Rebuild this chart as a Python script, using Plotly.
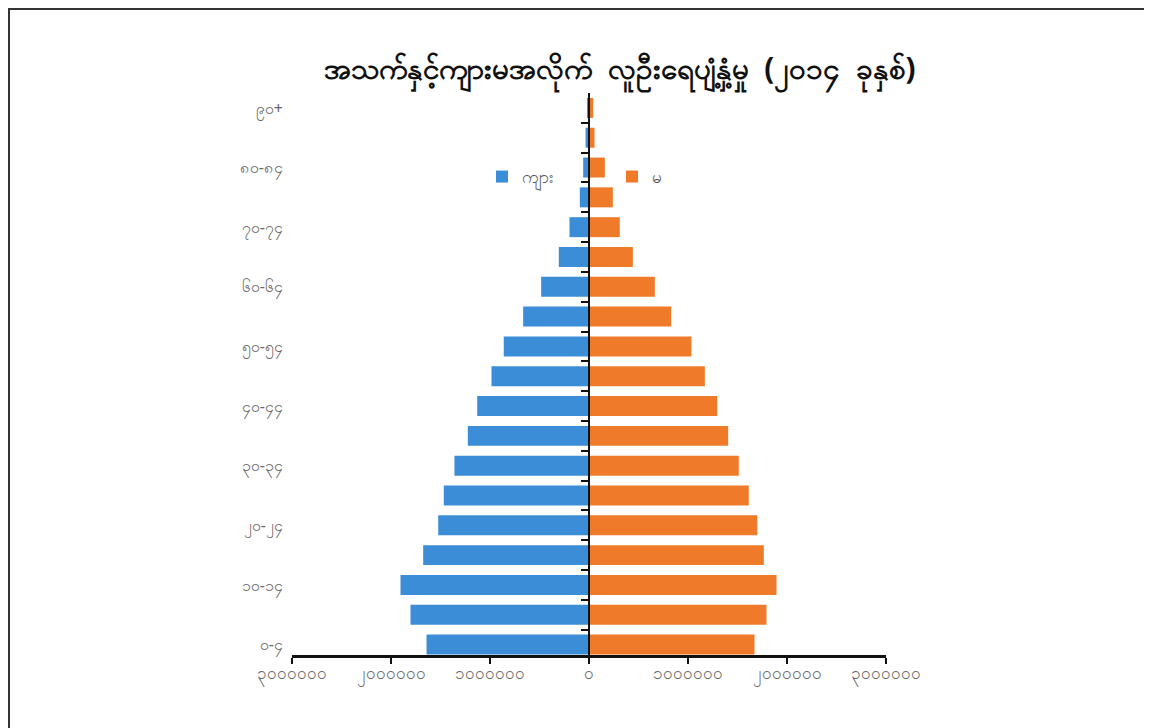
import plotly.graph_objects as go

age_groups = ["0-4", "5-9", "10-14", "15-19", "20-24", "25-29", "30-34", "35-39",
              "40-44", "45-49", "50-54", "55-59", "60-64", "65-69", "70-74",
              "75-79", "80-84", "85-89", "90+"]
age_labels_my = ["၀-၄", "", "၁၀-၁၄", "", "၂၀-၂၄", "", "၃၀-၃၄", "", "၄၀-၄၄", "",
                 "၅၀-၅၄", "", "၆၀-၆၄", "", "၇၀-၇၄", "", "၈၀-၈၄", "", "၉၀+"]
male = [1641000, 1803000, 1904000, 1675000, 1523000, 1467000, 1359000, 1224000,
        1129000, 985000, 861000, 665000, 483000, 305000, 197000, 93000, 59000,
        35000, 18000]
female = [1672000, 1793000, 1894000, 1766000, 1699000, 1614000, 1513000, 1406000,
          1295000, 1170000, 1035000, 830000, 665000, 443000, 311000, 241000,
          160000, 56000, 42000]
x_tickvals = [-3000000, -2000000, -1000000, 0, 1000000, 2000000, 3000000]
x_ticktext = ["၃၀၀၀၀၀၀", "၂၀၀၀၀၀၀", "၁၀၀၀၀၀၀", "၀", "၁၀၀၀၀၀၀", "၂၀၀၀၀၀၀", "၃၀၀၀၀၀၀"]
series_names = ["ကျား", "မ"]
title_text = "အသက်နှင့်ကျားမအလိုက် \u00a0လူဦးရေပျံ့နှံ့မှု \u00a0(၂၀၁၄ \u00a0ခုနှစ်)"

BLUE = "#3a8dd6"
ORANGE = "#ef7b2a"
FONT = "Noto Sans, DejaVu Sans, sans-serif"

ypos = list(range(len(age_groups)))
YR = [-0.35, 18.5]

fig = go.Figure()
fig.add_trace(go.Bar(y=ypos, x=[-v for v in male], orientation="h", name=series_names[0],
                     marker=dict(color=BLUE, line=dict(width=0)),
                     customdata=male, hovertemplate="%{customdata}<extra></extra>"))
fig.add_trace(go.Bar(y=ypos, x=female, orientation="h", name=series_names[1],
                     marker=dict(color=ORANGE, line=dict(width=0)),
                     hovertemplate="%{x}<extra></extra>"))
# helper trace for the central axis with boundary ticks
fig.add_trace(go.Scatter(x=[0], y=[0], yaxis="y2", mode="markers",
                         marker=dict(opacity=0), showlegend=False, hoverinfo="skip"))

# page body adds an 8px offset, so the figure is laid out in shifted coordinates
W, H = 1144, 720
ml, mr, mt, mb = 284, 266, 85, 73
PW, PH = W - ml - mr, H - mt - mb

fig.update_layout(
    width=W, height=H,
    margin=dict(l=ml, r=mr, t=mt, b=mb, autoexpand=False),
    paper_bgcolor="white", plot_bgcolor="white",
    barmode="relative", bargap=0.33,
    font=dict(family=FONT, color="#555555", size=16),
    title=dict(text="<b>" + title_text + "</b>", x=612 / W, xanchor="center",
               y=1 - 61 / H, yanchor="middle",
               font=dict(size=29.5, color="#111111", family=FONT)),
    xaxis=dict(range=[-3000000, 3000000], tickvals=x_tickvals, ticktext=x_ticktext,
               showgrid=False, zeroline=False, showline=True, linecolor="#111111",
               linewidth=3, ticks="outside", ticklen=6, tickwidth=2, tickcolor="#111111",
               ticklabelstandoff=-5,
               tickfont=dict(size=17, color="#666666"), fixedrange=True),
    yaxis=dict(range=YR, tickvals=ypos, ticktext=age_labels_my,
               showgrid=False, zeroline=False, showline=False, ticks="",
               ticklabelstandoff=8,
               tickfont=dict(size=16, color="#666666"), fixedrange=True),
    yaxis2=dict(range=YR, overlaying="y", anchor="free", position=0.5,
                side="left", showgrid=False, zeroline=False, showline=True,
                linecolor="#111111", linewidth=2, ticks="outside", ticklen=7,
                tickwidth=2, tickcolor="#111111",
                tickvals=[i + 0.5 for i in range(len(age_groups) - 1)],
                showticklabels=False, fixedrange=True),
    legend=dict(orientation="h", x=(474 - ml) / PW, xanchor="left",
                y=(H - mb - 169) / PH, yanchor="middle",
                bgcolor="rgba(0,0,0,0)", font=dict(size=17, color="#555555"),
                entrywidth=85, traceorder="normal"),
    shapes=[
        dict(type="line", xref="paper", yref="paper",
             x0=(0 - ml) / PW, x1=(W - ml) / PW,
             y0=(H - mb - 1) / PH, y1=(H - mb - 1) / PH,
             line=dict(color="#333333", width=2)),
        dict(type="line", xref="paper", yref="paper",
             x0=(1 - ml) / PW, x1=(1 - ml) / PW,
             y0=(H - mb) / PH, y1=(-mb) / PH,
             line=dict(color="#333333", width=2)),
    ],
)

fig.write_html("out.html")
